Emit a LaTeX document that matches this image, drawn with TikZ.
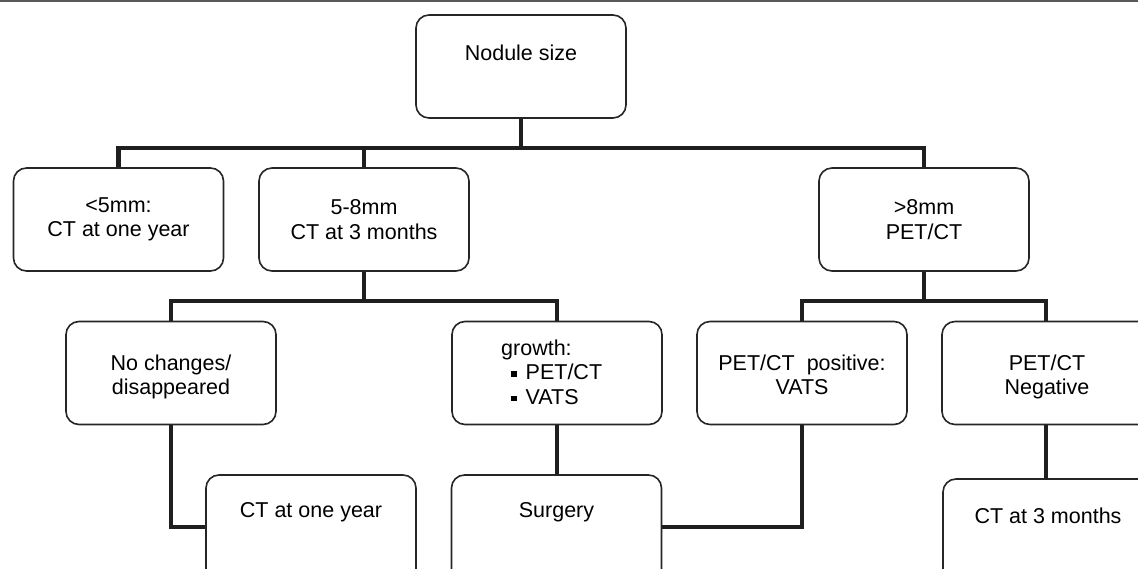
\documentclass[tikz,border=0pt]{standalone}
\usepackage{fontspec}
\setmainfont{Liberation Sans}
\begin{document}
\begin{tikzpicture}[x=1pt,y=-1pt,
  box/.style={draw=black!85, line width=1.6pt, rounded corners=13pt, fill=white,
    minimum width=210pt, minimum height=103pt, align=center, inner sep=0pt,
    font=\fontsize{21.5}{24.5}\selectfont},
  lowbox/.style={box, minimum height=120pt},
  txt/.style={align=center, inner sep=0pt, font=\fontsize{21.5}{24.5}\selectfont},
  conn/.style={draw=black!88, line width=4.5pt, line join=miter}]
\clip (0,0) rectangle (1138,569);
\fill[white] (0,0) rectangle (1138,569);
\draw[black!65, line width=2pt] (0,1) -- (1138,1);

% boxes
\node[box] (N) at (521,66.5) {};
\node[txt] (Nt) at (521,53) {Nodule size};
\node[box] (A) at (118.5,219.5) {<5mm:\\CT at one year};
\node[box] (B) at (364,219.5) {5-8mm\\CT at 3 months};
\node[box] (C) at (924,219.5) {>8mm\\PET/CT};
\node[box] (D) at (171,373) {};
\node[txt] (Dt) at (171,377) {No changes/\\disappeared};
\node[box] (E) at (557,373) {};
\node[txt, align=left, anchor=west] (Et) at (501,372) {growth:\\\hspace{10pt}\rule[3pt]{5.5pt}{5.5pt}\hspace{9pt}PET/CT\\\hspace{10pt}\rule[3pt]{5.5pt}{5.5pt}\hspace{9pt}VATS};
\node[box] (F) at (802,373) {};
\node[txt] (Ft) at (802,375) {PET/CT\ \ positive:\\VATS};
\node[box] (G) at (1047,373) {};
\node[txt] (Gt) at (1047,377) {PET/CT\\Negative};
\node[lowbox] (H) at (311,535) {};
\node[txt] (Ht) at (311,512) {CT at one year};
\node[lowbox] (I) at (556.5,535) {};
\node[txt] (It) at (556.5,512) {Surgery};
\node[lowbox] (J) at (1048,539) {};
\node[txt] (Jt) at (1048,516) {CT at 3 months};

% connectors
\coordinate (b1) at (521,148);
\draw[conn] (N.south) -- (b1) -| (A.north);
\draw[conn] (b1) -| (B.north);
\draw[conn] (b1) -| (C.north);
\coordinate (b2) at (364,301);
\draw[conn] (B.south) -- (b2) -| (D.north);
\draw[conn] (b2) -| (E.north);
\coordinate (b3) at (924,301);
\draw[conn] (C.south) -- (b3) -| (F.north);
\draw[conn] (b3) -| (1046,321.5);
\draw[conn] (D.south) |- (H.west |- 0,527);
\draw[conn] (E.south) -- (E.south |- I.north);
\draw[conn] (F.south) |- (I.east |- 0,527);
\draw[conn] (1046,424.5) -- (1046,479);
\end{tikzpicture}
\end{document}
